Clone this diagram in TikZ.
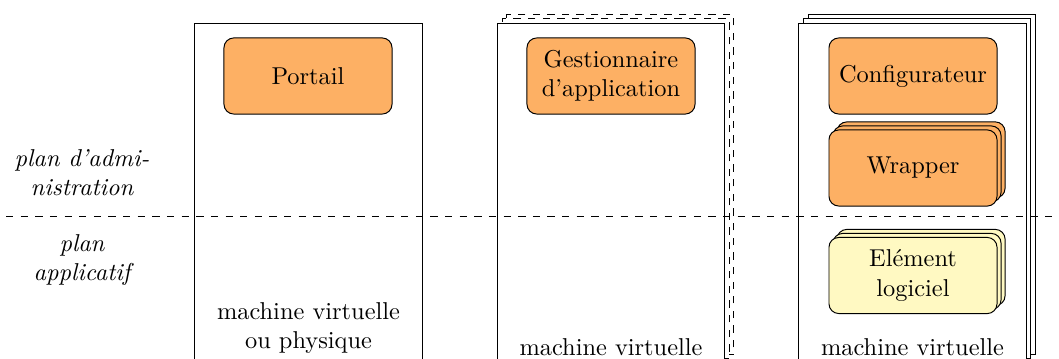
\documentclass[tikz,border=0pt]{standalone}
\usetikzlibrary{shadows}
\definecolor{orangefill}{HTML}{FDB064}
\definecolor{yellowfill}{HTML}{FFF9C2}
\begin{document}
\begin{tikzpicture}[x=0.41pt,y=-0.41pt,
  machine/.style={draw, fill=white, minimum width=93.1pt, minimum height=139.4pt, inner sep=0pt},
  comp/.style={draw, rounded corners=4pt, fill=orangefill, minimum width=68.9pt, minimum height=31.2pt, align=center, inner sep=2pt},
  soft/.style={comp, fill=yellowfill},
  stackshadow/.style={
    copy shadow={shadow xshift=3.3pt, shadow yshift=3.3pt, fill=#1, draw=black},
    copy shadow={shadow xshift=1.65pt, shadow yshift=1.65pt, fill=#1, draw=black}},
  vmshadow/.style={
    copy shadow={shadow xshift=3.8pt, shadow yshift=3.5pt, fill=white, draw=black, #1},
    copy shadow={shadow xshift=1.9pt, shadow yshift=1.75pt, fill=white, draw=black, #1}},
  lbl/.style={align=center, inner sep=0pt},
  plane/.style={align=center, inner sep=0pt, font=\itshape}
]
\useasboundingbox (0,0) rectangle (1059,359);
\clip (0,0) rectangle (1059,359);

% machines
\node[machine] (m1) at (308.5,193) {};
\node[machine, vmshadow=dashed] (m2) at (611,193) {};
\node[machine, vmshadow=solid] (m3) at (912.5,193) {};

% separating line
\coordinate (dl) at (6,216);
\coordinate (dr) at (1062,216);
\draw[dashed] (dl) -- (dr);

% plane labels
\node[plane] (adm) at (82,173) {plan d’admi-\\nistration};
\node[plane] (app) at (82,260) {plan\\applicatif};

% components
\node[comp] (portail) at (308,76) {Portail};
\node[comp] (gest) at (611,76) {Gestionnaire\\d’application};
\node[comp] (config) at (913,76) {Configurateur};
\node[comp, stackshadow=orangefill] (wrap) at (913,168) {Wrapper};
\node[soft, stackshadow=yellowfill] (elem) at (913,275.5) {Elément\\logiciel};

% machine labels
\node[lbl] (t1) at (308.5,328) {machine virtuelle\\ou physique};
\node[lbl] (t2) at (611,347) {machine virtuelle};
\node[lbl] (t3) at (912.5,347) {machine virtuelle};
\end{tikzpicture}
\end{document}
